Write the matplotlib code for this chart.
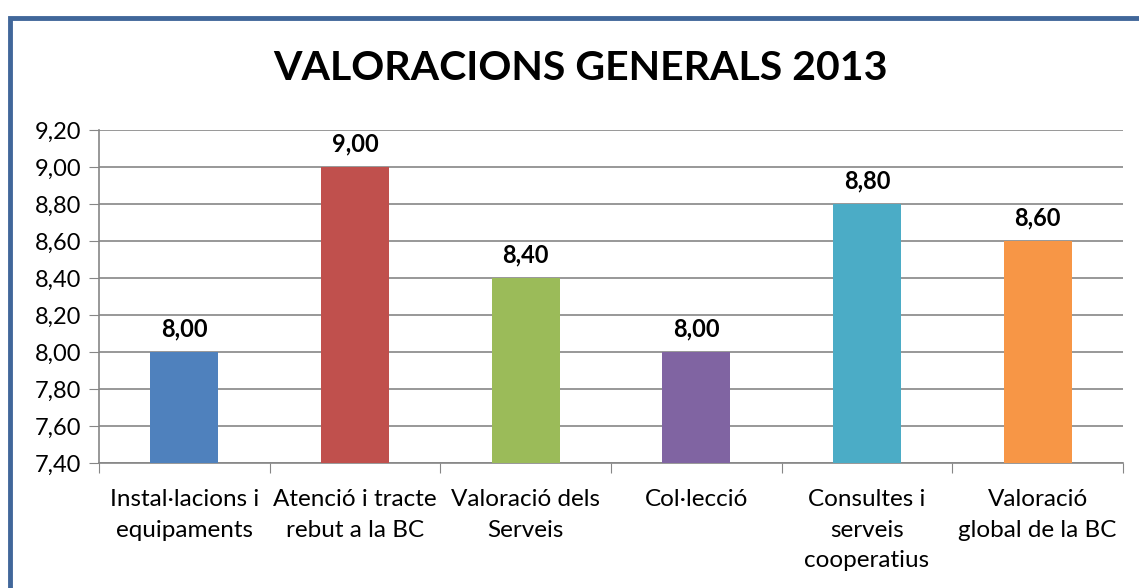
import matplotlib
matplotlib.use("Agg")
import matplotlib.pyplot as plt
from matplotlib.patches import Rectangle
from matplotlib.ticker import FuncFormatter

categories = ["Instal·lacions i\nequipaments", "Atenció i tracte\nrebut a la BC",
              "Valoració dels\nServeis", "Col·lecció",
              "Consultes i\nserveis\ncooperatius", "Valoració\nglobal de la BC"]
values = [8.00, 9.00, 8.40, 8.00, 8.80, 8.60]
colors = ["#4F81BD", "#C0504D", "#9BBB59", "#8064A2", "#4BACC6", "#F79646"]
yticks = [7.40, 7.60, 7.80, 8.00, 8.20, 8.40, 8.60, 8.80, 9.00, 9.20]

plt.rcParams["font.family"] = ["Lato", "DejaVu Sans"]

fig = plt.figure(figsize=(11.39, 5.88), dpi=100)
ax = fig.add_axes([99/1139, 1 - 463/588, (1123 - 99)/1139, (463 - 130)/588])

x = range(len(values))
base = yticks[0]
ax.bar(x, [v - base for v in values], bottom=base, width=0.4, color=colors, zorder=3)
for i, v in enumerate(values):
    ax.text(i, v + 0.06, f"{v:.2f}".replace(".", ","), ha="center", va="bottom",
            fontsize=17, fontweight="bold")

ax.set_xlim(-0.5, len(values) - 0.5)
ax.set_ylim(yticks[0], yticks[-1])
ax.set_yticks(yticks)
ax.yaxis.set_major_formatter(FuncFormatter(lambda v, p: f"{v:.2f}".replace(".", ",")))
ax.set_xticks([i - 0.5 for i in range(len(values) + 1)])
ax.set_xticklabels([])
ax.set_xticks(list(x), minor=True)
ax.set_xticklabels(categories, minor=True, fontsize=17.5, linespacing=1.55)
ax.tick_params(axis="x", which="minor", length=0, pad=19)
ax.tick_params(axis="x", which="major", length=7, color="#868686")
ax.tick_params(axis="y", length=7, color="#868686", labelsize=17, pad=6)
ax.grid(axis="y", color="#868686", linewidth=1.2, zorder=0)
for s in ["top", "right"]:
    ax.spines[s].set_visible(False)
for s in ["left", "bottom"]:
    ax.spines[s].set_color("#868686")
    ax.spines[s].set_linewidth(1.2)

fig.text(580/1139, 1 - 68/588, "VALORACIONS GENERALS 2013", ha="center", va="center",
         fontsize=29.5, fontweight="bold")

# outer chart frame (only left and top visible in the crop)
fig.patches.append(Rectangle((10/1139, -0.05), 1.2, 1 - 18/588 + 0.05, transform=fig.transFigure,
                             fill=False, edgecolor="#41679A", linewidth=3.5))

fig.savefig("out.png", dpi=100)
